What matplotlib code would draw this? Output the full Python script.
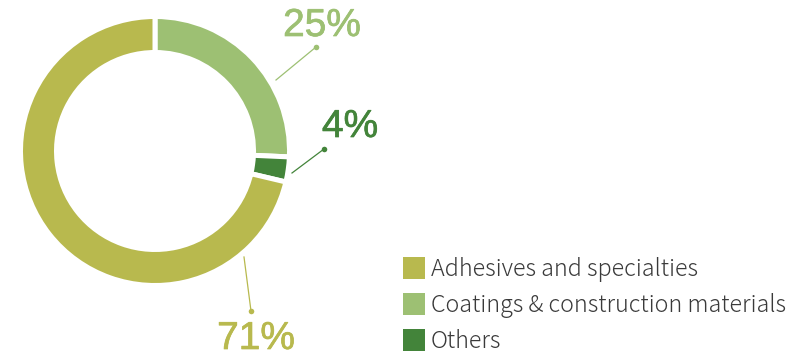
import matplotlib
matplotlib.use("Agg")
import matplotlib.pyplot as plt
import matplotlib.patheffects as pe
from matplotlib.patches import Rectangle

W, H = 810, 353

categories = ["Coatings & construction materials", "Others", "Adhesives and specialties"]
shares = [25.7, 3.0, 71.3]
colors = ["#9dc073", "#43843a", "#b8b94e"]
pct_labels = ["25%", "4%", "71%"]

legend_order = ["Adhesives and specialties", "Coatings & construction materials", "Others"]
legend_colors = ["#b8b94e", "#9dc073", "#43843a"]

fig = plt.figure(figsize=(W / 100, H / 100), dpi=100)
ax = fig.add_axes([0, 0, 1, 1])

def fy(y):
    return H - y

# donut
gap = 5
ax.pie(shares, colors=colors, startangle=90, counterclock=False,
       center=(155, fy(151)), radius=132 + gap / 2, frame=True,
       wedgeprops=dict(width=31 + gap, edgecolor="white", linewidth=gap * 0.72))
ax.set_xlim(0, W)
ax.set_ylim(0, H)
ax.set_aspect("equal")
ax.axis("off")

# percentage labels with leader lines
text_pos = [(322, 36), (350, 137), (256, 349)]
lines = [((276, 80), (316, 47)), ((292, 173), (324, 149)), ((244, 257), (251, 311))]
for lab, c, (tx, ty), (p0, p1) in zip(pct_labels, colors, text_pos, lines):
    ax.text(tx, fy(ty), lab, color=c, fontsize=28, family="Liberation Sans",
            ha="center", va="baseline",
            path_effects=[pe.withStroke(linewidth=0.5, foreground=c)])
    ax.plot([p0[0], p1[0]], [fy(p0[1]), fy(p1[1])], color=c, lw=0.9)
    ax.plot(p1[0], fy(p1[1]), "o", color=c, ms=4, mec="none")

# legend
for i, (name, c) in enumerate(zip(legend_order, legend_colors)):
    top = 257 + i * 36
    ax.add_patch(Rectangle((403, fy(top + 22)), 22, 22, color=c, lw=0))
    ax.text(431, fy(top + 19), name, color="#3a3a3a", fontsize=16.8,
            family="Noto Sans CJK JP", fontweight=300, ha="left", va="baseline")

fig.savefig("out.png", dpi=100)
